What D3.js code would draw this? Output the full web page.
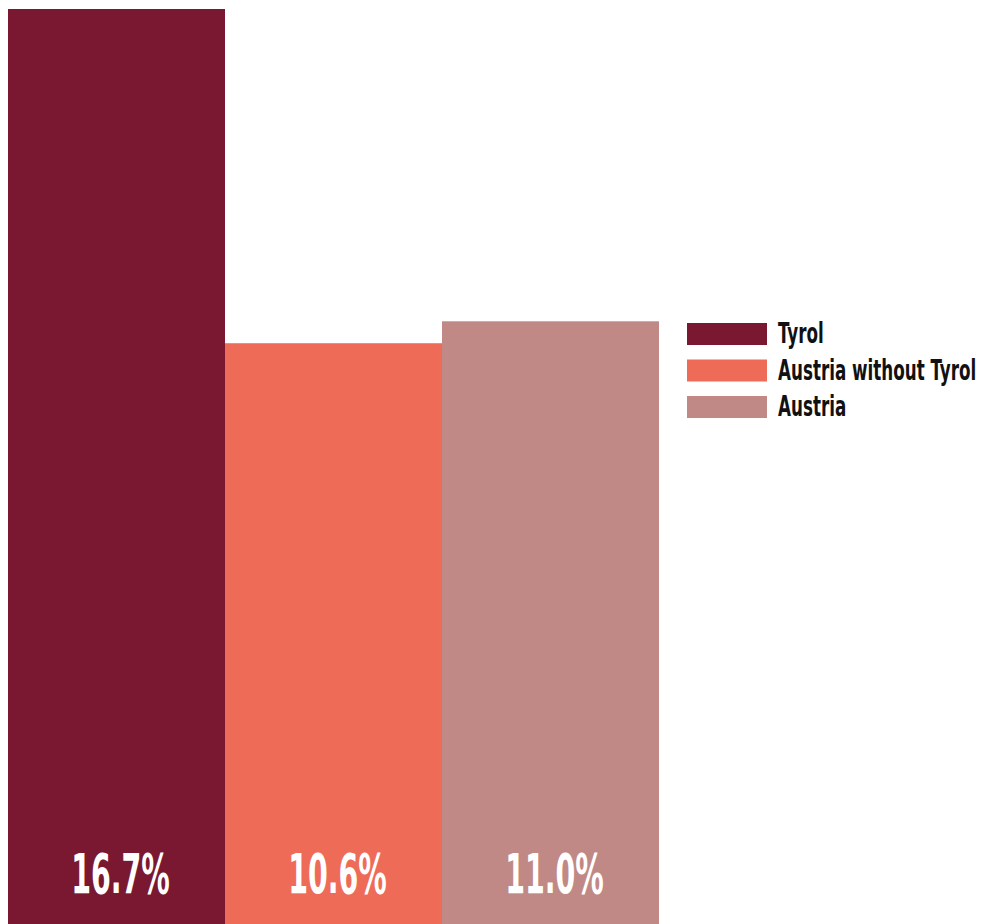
<!DOCTYPE html>
<html>
<head>
<meta charset="utf-8">
<script src="https://cdn.jsdelivr.net/npm/d3@7"></script>
<style>
  html, body { margin: 0; padding: 0; background: #ffffff; }
  svg { display: block; }
  .lbl { font-family: "DejaVu Sans Condensed", "DejaVu Sans", sans-serif; font-weight: bold; }
</style>
</head>
<body>
<svg id="chart" width="981" height="924"></svg>
<script>
// Share by region
const categories = ["Tyrol", "Austria without Tyrol", "Austria"];
const values = [16.7, 10.6, 11.0];
const valueLabels = ["16.7%", "10.6%", "11.0%"];
const colors = ["#7a1831", "#ee6b58", "#c08985"];

const svg = d3.select("#chart");
const W = 981, H = 924;

const x = d3.scaleBand().domain(categories).range([8, 659]).padding(0);
const y = d3.scaleLinear().domain([0, d3.max(values)]).range([H, 9]);
const color = d3.scaleOrdinal().domain(categories).range(colors);

const data = categories.map((c, i) => ({ cat: c, value: values[i], label: valueLabels[i] }));

svg.selectAll("rect.bar")
  .data(data)
  .join("rect")
  .attr("class", "bar")
  .attr("x", d => x(d.cat))
  .attr("y", d => y(d.value))
  .attr("width", x.bandwidth())
  .attr("height", d => y(0) - y(d.value))
  .attr("fill", d => color(d.cat));

// Value labels near the bar base, horizontally condensed
const squeeze = 0.565;
svg.selectAll("text.val")
  .data(data)
  .join("text")
  .attr("class", "lbl val")
  .attr("transform", d => `translate(${x(d.cat) + x.bandwidth() / 2 + 4},893) scale(${squeeze},1)`)
  .attr("text-anchor", "middle")
  .attr("font-size", 56)
  .attr("fill", "#ffffff")
  .text(d => d.label);

// Legend
const legend = svg.append("g").attr("transform", "translate(687,323)");
const item = legend.selectAll("g.item")
  .data(categories)
  .join("g")
  .attr("class", "item")
  .attr("transform", (d, i) => `translate(0,${i * 36.5})`);

item.append("rect")
  .attr("width", 80)
  .attr("height", 22)
  .attr("fill", d => color(d));

item.append("text")
  .attr("class", "lbl")
  .attr("transform", "translate(91,20) scale(0.643,1)")
  .attr("font-size", 29)
  .attr("fill", "#111111")
  .text(d => d);
</script>
</body>
</html>
